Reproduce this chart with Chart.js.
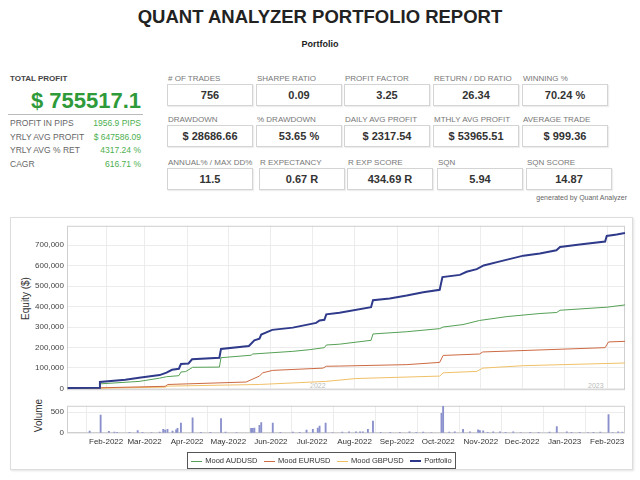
<!DOCTYPE html>
<html>
<head>
<meta charset="utf-8">
<script src="https://cdn.jsdelivr.net/npm/chart.js@4.4.1/dist/chart.umd.min.js"></script>
<style>
  body { margin:0; width:640px; height:480px; position:relative; overflow:hidden; background:#fff;
         font-family:'Liberation Sans', Arial, sans-serif; color:#333; }
  .abs { position:absolute; white-space:nowrap; }
  .lbl { position:absolute; font-size:8px; color:#777; white-space:nowrap; }
  .box { position:absolute; width:84px; height:20px; border:1px solid #d4d4d4; box-shadow:1px 1px 1px #eee;
         font-size:11px; font-weight:bold; color:#333; text-align:center; line-height:20px; }
  .row { position:absolute; left:10px; width:131px; font-size:8.5px; color:#666; }
  .row span { position:absolute; right:0; color:#4caf50; }
  .vt { position:absolute; font-size:10px; color:#333; transform:rotate(-90deg); transform-origin:center; white-space:nowrap; }
  #legend { position:absolute; left:187px; top:452px; width:267px; height:15px; border:1px solid #555;
            font-size:7.5px; color:#333; display:flex; align-items:center; justify-content:space-around; }
  #legend i { display:inline-block; width:11px; border-top:1.5px solid; vertical-align:middle; margin-right:3px; }
</style>
</head>
<body>
<div class="abs" style="left:0;width:640px;top:6px;text-align:center;font-size:18.5px;font-weight:bold;color:#222;">QUANT ANALYZER PORTFOLIO REPORT</div>
<div class="abs" style="left:0;width:640px;top:39px;text-align:center;font-size:9px;font-weight:bold;color:#222;">Portfolio</div>

<div class="abs" style="left:10px;top:74px;font-size:8px;font-weight:bold;color:#444;">TOTAL PROFIT</div>
<div class="abs" style="left:10px;width:131px;top:88px;text-align:right;font-size:22px;font-weight:bold;color:#2e9a3a;">$ 755517.1</div>
<div class="abs" style="left:8px;top:114px;width:135px;border-top:1px solid #bbb;"></div>
<div id="summary"></div>
<div id="stats"></div>
<div class="abs" style="right:13px;top:194px;font-size:7px;color:#666;">generated by Quant Analyzer</div>

<div class="abs" style="left:10px;top:217px;width:621px;height:251px;border:1px solid #ddd;box-shadow:1px 1px 2px #e4e4e4;"></div>
<div class="vt" style="left:0px;top:293px;width:50px;text-align:center;">Equity ($)</div>
<div class="vt" style="left:18px;top:410px;width:40px;text-align:center;">Volume</div>
<div class="abs" style="left:310px;top:382px;font-size:7px;color:#bbb;">2022</div>
<div class="abs" style="left:588px;top:382px;font-size:7px;color:#bbb;">2023</div>

<div class="abs" style="left:10px;top:218px;"><canvas id="eq" width="620" height="180"></canvas></div>
<div class="abs" style="left:10px;top:398px;"><canvas id="vol" width="620" height="55"></canvas></div>

<div id="legend">
  <span><i style="color:#55a055"></i>Mood AUDUSD</span>
  <span><i style="color:#cc6a42"></i>Mood EURUSD</span>
  <span><i style="color:#f0c068"></i>Mood GBPUSD</span>
  <span><i style="color:#2c3789;border-top-width:2px"></i>Portfolio</span>
</div>

<script>
// x values are days counted from 1 Jan 2022
const monthDays = [31, 59, 90, 120, 151, 181, 212, 243, 273, 304, 334, 365, 396];
const monthLabels = ['Feb-2022', 'Mar-2022', 'Apr-2022', 'May-2022', 'Jun-2022', 'Jul-2022', 'Aug-2022',
                     'Sep-2022', 'Oct-2022', 'Nov-2022', 'Dec-2022', 'Jan-2023', 'Feb-2023'];
const equityTicks = [0, 100000, 200000, 300000, 400000, 500000, 600000, 700000];
const volumeTicks = [0, 500];

const portfolioDays = [3, 26, 26.5, 45, 55, 70, 75, 79, 84, 85.5, 91, 93.6, 113.5, 114.7, 135, 139, 142.7, 144, 152, 167,
                       184, 186.5, 190, 191.4, 201, 224, 225.4, 237.6, 250, 262, 274, 276, 288.7, 293.6, 301, 306, 318, 335, 347, 359,
                       361.7, 376, 394.5, 395.7, 403, 409];
const portfolioValues = [2000, 3000, 31000, 42000, 52000, 65000, 77000, 91000, 96000, 119000, 122000, 142000, 150000, 193000, 207000, 235000, 243000, 263000, 286000, 297000,
                         320000, 332000, 335000, 362000, 370000, 397000, 431000, 440000, 454000, 470000, 482000, 544000, 555000, 570000, 583000, 601000, 621000, 649000, 660000, 675000,
                         691000, 703000, 718000, 745000, 752000, 760000];

const audDays = [3, 26, 26.5, 55, 70, 75, 84, 85.5, 89, 94, 113.5, 114.7, 136.6, 137.8, 167, 179, 190, 191.4, 201, 224,
                 225.4, 250, 274, 276.5, 291, 303, 323, 347, 359.3, 361.7, 396, 409];
const audValues = [2000, 3000, 22000, 34000, 50000, 57000, 62000, 80000, 82000, 103000, 104000, 150000, 162000, 168000, 181000, 189000, 199000, 212000, 216000, 235000,
                   266000, 277000, 292000, 300000, 312000, 332000, 351000, 366000, 371000, 382000, 397000, 408000];

const eurDays = [3, 26, 28, 74, 76, 133, 136.6, 142.7, 145, 152.4, 189, 191.4, 201, 250, 274, 276.5, 303, 305.4, 394.5, 397, 409];
const eurValues = [0, 1000, 3000, 10000, 19000, 31000, 42000, 60000, 76000, 88000, 99000, 108000, 109000, 116000, 127000, 161000, 168000, 178000, 199000, 227000, 230000];

const gbpDays = [3, 28, 74, 76, 142.7, 191, 213, 274, 276.5, 301, 305.4, 335, 409];
const gbpValues = [0, 1000, 6000, 11000, 19000, 34000, 48000, 60000, 76000, 83000, 99000, 111000, 124000];

const volumeDays = [19, 27, 33, 37, 39, 54, 57.5, 70, 72.6, 74, 75.7, 79.4, 82, 83, 85.5, 94, 114.7, 118, 136.6, 137.8,
                    139, 142.7, 144, 152.4, 167, 172, 177, 181.6, 185.2, 186.5, 190.9, 203, 208, 213, 216, 218, 221.7, 225.4, 245, 252,
                    262, 275.3, 276.5, 285, 291, 302, 303.3, 305.7, 313, 318, 327.6, 340, 354, 359.3, 366.6, 376, 391, 397, 404,
                    48, 64, 100, 107, 126, 158, 196, 231, 238, 257, 268, 281, 296, 309, 322, 333, 346, 370, 382, 386, 400, 407];
const volumeValues = [45, 430, 40, 20, 15, 60, 15, 20, 90, 70, 90, 45, 77, 110, 237, 360, 346, 20, 110, 110,
                      120, 186, 250, 237, 20, 15, 70, 90, 120, 166, 237, 20, 30, 25, 25, 30, 90, 282, 15, 25,
                      20, 470, 635, 30, 90, 77, 60, 50, 30, 25, 25, 15, 20, 154, 30, 15, 20, 442, 30,
                      10, 12, 15, 10, 12, 15, 12, 18, 10, 15, 12, 20, 25, 15, 18, 12, 10, 15, 12, 18, 12, 20];

const summaryLabels = ['PROFIT IN PIPS', 'YRLY AVG PROFIT', 'YRLY AVG % RET', 'CAGR'];
const summaryValues = ['1956.9 PIPS', '$ 647586.09', '4317.24 %', '616.71 %'];

const statLabels = [
  ['# OF TRADES', 'SHARPE RATIO', 'PROFIT FACTOR', 'RETURN / DD RATIO', 'WINNING %'],
  ['DRAWDOWN', '% DRAWDOWN', 'DAILY AVG PROFIT', 'MTHLY AVG PROFIT', 'AVERAGE TRADE'],
  ['ANNUAL% / MAX DD%', 'R EXPECTANCY', 'R EXP SCORE', 'SQN', 'SQN SCORE']
];
const statValues = [
  ['756', '0.09', '3.25', '26.34', '70.24 %'],
  ['$ 28686.66', '53.65 %', '$ 2317.54', '$ 53965.51', '$ 999.36'],
  ['11.5', '0.67 R', '434.69 R', '5.94', '14.87']
];

// header blocks
let html = '';
summaryLabels.forEach((l, i) => {
  html += `<div class="row" style="top:${118 + i * 13.5}px">${l}<span>${summaryValues[i]}</span></div>`;
});
document.getElementById('summary').innerHTML = html;

html = '';
const colX = [[168, 257, 345, 434, 523], [168, 257, 345, 434, 523], [168, 260, 348, 438, 527]];
const rowY = [74, 115, 158];
statLabels.forEach((row, r) => {
  row.forEach((l, c) => {
    html += `<div class="lbl" style="left:${colX[r][c]}px;top:${rowY[r]}px">${l}</div>`;
    html += `<div class="box" style="left:${colX[r][c] - 1}px;top:${rowY[r] + 10}px">${statValues[r][c]}</div>`;
  });
});
document.getElementById('stats').innerHTML = html;

const zip = (xs, ys) => xs.map((x, i) => ({ x: x, y: ys[i] }));

const frame = {
  id: 'frame',
  beforeDatasetsDraw(chart) {
    const a = chart.chartArea, ctx = chart.ctx;
    ctx.save();
    ctx.strokeStyle = '#cfcfcf';
    ctx.lineWidth = 1;
    ctx.strokeRect(a.left + 0.5, a.top + 0.5, a.width - 1, a.height - 1);
    ctx.restore();
  }
};

const xMin = 2.5, xMax = 409;
const gridColor = '#ececec';

new Chart(document.getElementById('eq'), {
  type: 'line',
  data: {
    datasets: [
      { label: 'Portfolio', data: zip(portfolioDays, portfolioValues), borderColor: '#2f3a8a', borderWidth: 2, order: 0 },
      { label: 'Mood AUDUSD', data: zip(audDays, audValues), borderColor: '#55a055', borderWidth: 1, order: 1 },
      { label: 'Mood EURUSD', data: zip(eurDays, eurValues), borderColor: '#cc6a42', borderWidth: 1, order: 2 },
      { label: 'Mood GBPUSD', data: zip(gbpDays, gbpValues), borderColor: '#f0c068', borderWidth: 1, order: 3 }
    ]
  },
  options: {
    responsive: false,
    animation: false,
    elements: { point: { radius: 0 }, line: { tension: 0 } },
    layout: { padding: { top: 5, right: 5, bottom: 2, left: 0 } },
    plugins: { legend: { display: false }, tooltip: { enabled: false } },
    scales: {
      x: {
        type: 'linear', min: xMin, max: xMax,
        afterBuildTicks: a => { a.ticks = monthDays.map(v => ({ value: v })); },
        afterFit: s => { s.height = 0; },
        ticks: { display: false },
        grid: { color: gridColor, drawTicks: false },
        border: { display: false }
      },
      y: {
        min: -9000, max: 795000,
        afterBuildTicks: a => { a.ticks = equityTicks.map(v => ({ value: v })); },
        afterFit: s => { s.width = 57; },
        ticks: { font: { size: 8 }, color: '#444', padding: 3, callback: v => v.toLocaleString('en-US') },
        grid: { color: gridColor, drawTicks: false },
        border: { display: false }
      }
    }
  },
  plugins: [frame]
});

new Chart(document.getElementById('vol'), {
  type: 'bar',
  data: {
    datasets: [{ label: 'Volume', data: zip(volumeDays, volumeValues), backgroundColor: '#8a90cc', barThickness: 1.2, grouped: false }]
  },
  options: {
    responsive: false,
    animation: false,
    layout: { padding: { top: 1, right: 5, bottom: 0, left: 0 } },
    plugins: { legend: { display: false }, tooltip: { enabled: false } },
    scales: {
      x: {
        type: 'linear', min: xMin, max: xMax, offset: false,
        afterBuildTicks: a => { a.ticks = monthDays.map(v => ({ value: v })); },
        afterFit: s => { s.height = 20; },
        ticks: { font: { size: 8 }, color: '#333', autoSkip: false, maxRotation: 0, padding: 4,
                 callback: (v, i) => monthLabels[i] },
        grid: { color: gridColor, drawTicks: false },
        border: { display: false }
      },
      y: {
        min: 0, max: 650,
        afterBuildTicks: a => { a.ticks = volumeTicks.map(v => ({ value: v })); },
        afterFit: s => { s.width = 57; },
        ticks: { font: { size: 8 }, color: '#444', padding: 3 },
        grid: { color: gridColor, drawTicks: false },
        border: { display: false }
      }
    }
  },
  plugins: [frame]
});
</script>
</body>
</html>
